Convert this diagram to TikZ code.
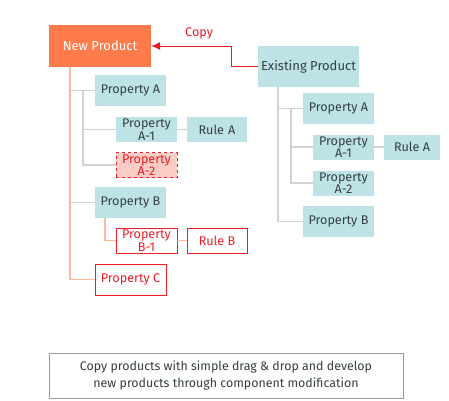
\documentclass[tikz,border=0pt]{standalone}
\usepackage{fontspec}
\setmainfont{Fira Sans}
\usetikzlibrary{positioning,arrows.meta}
\definecolor{propblue}{HTML}{BDE3E6}
\definecolor{prodorange}{HTML}{FF7B4A}
\definecolor{linesalmon}{HTML}{FFB899}
\definecolor{linegrey}{HTML}{D2D2D2}
\definecolor{newred}{HTML}{EE1C25}
\definecolor{newpink}{HTML}{F9CDC5}
\definecolor{textdark}{HTML}{353F42}
\tikzset{
	>={Latex[length=9pt,width=8pt]},
}

\begin{document}
\begin{tikzpicture}[
		x=1pt,y=-1pt,
		prop/.style={
			rectangle, inner sep=0pt, align=center,
			minimum width=#1, fill=propblue, text=textdark,
			font=\fontsize{12.6}{12.6}\selectfont,
		},
		prop/.default=71pt,
		newprop/.style={fill=white, draw=newred, text=newred, line width=0.8pt},
		big/.style={minimum height=31pt},
		small/.style={minimum height=25pt},
		gline/.style={draw=linegrey, line width=1.4pt},
		oline/.style={draw=linesalmon, line width=1.4pt},
	]
	\useasboundingbox (0,0) rectangle (449,400);
	\def\two#1{Property\\#1}
		\draw
			% new product tree
			node(newp)[prop=102pt,minimum height=42pt,fill=prodorange,text=white,
				font=\fontsize{13}{13}\selectfont] at (100,46) {New Product}
			node(lpa)[prop,big] at (130.5,90.5) {Property A}
			node(la1)[prop=61pt,small] at (146.5,129.5) {\two{A-1}}
			node(lra)[prop=60pt,small] at (217,129.5) {Rule\,\,A}
			node(la2)[prop=61pt,small,newprop,fill=newpink,dashed] at (146.5,165) {\two{A-2}}
			node(lpb)[prop,big] at (130.5,202.5) {Property B}
			node(lb1)[prop=61pt,small,newprop] at (146.5,240.5) {\two{B-1}}
			node(lrb)[prop=60pt,small,newprop] at (217,240.5) {Rule B}
			node(lpc)[prop,big,newprop] at (130.5,279.5) {Property C}
			% existing product tree
			node(exist)[prop=101pt,minimum height=41pt,
				font=\fontsize{13}{13}\selectfont] at (308.5,66.5) {Existing Product}
			node(rpa)[prop,big] at (338.5,108.5) {Property A}
			node(ra1)[prop=61pt,small] at (343.5,147) {\two{A-1}}
			node(rra)[prop=56pt,small] at (412,147) {Rule A}
			node(ra2)[prop=61pt,small] at (343.5,183) {\two{A-2}}
			node(rpb)[prop,big] at (338.5,221.5) {Property B}
			% note
			node(note)[rectangle, draw=gray!80, line width=0.8pt, fill=white,
				minimum width=354pt, minimum height=45pt, align=center,
				text=textdark, font=\fontsize{12.4}{16.5}\selectfont] at (226,375.5)
				{Copy products with simple drag \& drop and develop\\
				new products through component modification}
		;
	\coordinate (ltop) at (70,67);
	\coordinate (lasub) at (83,90.5);
	\coordinate (lbsub) at (105,218);
	\coordinate (rtop) at (278,87);
	\coordinate (rasub) at (291,108.5);
	\coordinate (cbend) at (231,46);
	\draw[gline] (ltop |- lpa) -- (lpa.west);
	\draw[gline] (ltop |- lpb) -- (lpb.west);
	\draw[gline] (lasub) |- (la2.west);
	\draw[gline] (lasub |- la1) -- (la1.west);
	\draw[gline] (la1.east) -- (lra.west);
	\draw[oline] (ltop) |- (lpc.west);
	\draw[oline] (lbsub) |- (lb1.west);
	\draw[oline] (lb1.east) -- (lrb.west);
	\draw[gline] (rtop) |- (rpb.west);
	\draw[gline] (rtop |- rpa) -- (rpa.west);
	\draw[gline] (rasub) |- (ra2.west);
	\draw[gline] (rasub |- ra1) -- (ra1.west);
	\draw[gline] (ra1.east) -- (rra.west);
	\draw[->,draw=newred,line width=0.9pt] (exist.west) -| (cbend)
		-- node[pos=0.4,above=3pt,text=newred,font=\fontsize{12.6}{12.6}\selectfont]{Copy} (newp.east);
\end{tikzpicture}
\end{document}
